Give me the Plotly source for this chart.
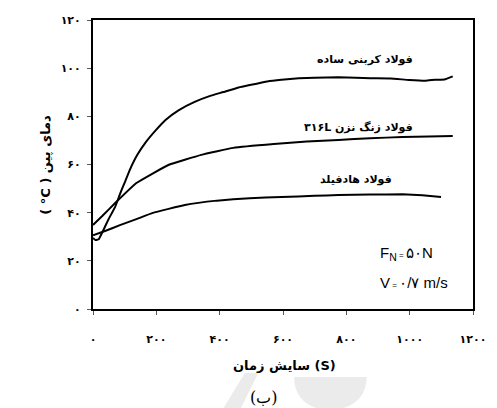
import plotly.graph_objects as go

# Friction (wear) time in seconds and pin temperature in °C for each steel
carbon_time = [0, 8, 18, 30, 50, 70, 86, 100, 116, 140, 168, 200, 229, 270, 321, 370, 412,
               460, 495, 550, 595, 650, 700, 775, 830, 876, 940, 998, 1050, 1081, 1110, 1136]
carbon_temp = [29.5, 28.6, 29.0, 32.0, 37.5, 42.4, 48.0, 52.5, 57.7, 64.0, 69.5, 74.5, 78.5,
               82.5, 86.0, 88.5, 90.1, 92.0, 93.0, 94.5, 95.2, 95.8, 96.0, 96.2, 96.0, 95.8,
               95.7, 95.1, 94.8, 95.2, 95.3, 96.6]

stainless_time = [0, 30, 70, 137, 238, 342, 443, 571, 675, 775, 875, 977, 1060, 1136]
stainless_temp = [34.9, 38.7, 44.0, 52.3, 59.8, 64.0, 66.9, 68.5, 69.5, 70.2, 70.9, 71.4, 71.6, 71.8]

hadfield_time = [0, 40, 85, 137, 189, 290, 391, 495, 595, 700, 775, 875, 977, 1040, 1099]
hadfield_temp = [30.6, 32.5, 34.8, 37.3, 39.9, 43.2, 45.0, 46.0, 46.5, 47.0, 47.3, 47.5, 47.6, 47.2, 46.5]

RLE, PDF, LRM = "\u202b", "\u202c", "\u200e"
series_names = ["فولاد کربنی ساده", RLE + "فولاد زنگ نزن ۳۱۶L" + PDF, "فولاد هادفیلد"]
label_x = [858, 837, 830]
label_y = [103.4, 75.6, 53.6]

x_tick_vals = [0, 200, 400, 600, 800, 1000, 1200]
x_tick_text = ["۰", "۲۰۰", "۴۰۰", "۶۰۰", "۸۰۰", "۱۰۰۰", "۱۲۰۰"]
y_tick_vals = [0, 20, 40, 60, 80, 100, 120]
y_tick_text = ["۰", "۲۰", "۴۰", "۶۰", "۸۰", "۱۰۰", "۱۲۰"]

W, H = 497, 408
L, R, T, B = 93, 11, 20, 99
PW, PH = W - L - R, H - T - B


def px(x):
    return (x - L) / PW


def py(y):
    return (H - B - y) / PH


fig = go.Figure()
line_style = dict(color="black", width=2, shape="spline", smoothing=0.3)
for t, v, n in [(carbon_time, carbon_temp, series_names[0]),
                (stainless_time, stainless_temp, series_names[1]),
                (hadfield_time, hadfield_temp, series_names[2])]:
    fig.add_trace(go.Scatter(x=t, y=v, mode="lines", name=n, line=line_style,
                             showlegend=False, hoverinfo="skip"))

arabic_font = "DejaVu Sans"
annotations = []
for n, xv, yv in zip(series_names, label_x, label_y):
    annotations.append(dict(x=xv, y=yv, xref="x", yref="y", text="<b>" + n + "</b>",
                            showarrow=False, font=dict(family=arabic_font, size=11, color="black")))


def note(x, y, text, font, **kw):
    d = dict(x=px(x), y=py(y), xref="paper", yref="paper", text=text, showarrow=False,
             xanchor="center", yanchor="middle", font=font)
    d.update(kw)
    return d


annotations += [
    note(388, 253, "F<sub>N</sub><span style='font-size:8px'> = </span>۵۰N",
         dict(family="Liberation Sans", size=15, color="black"), xanchor="left"),
    note(388, 282, "V<span style='font-size:8px'> = </span>۰/۷ m/s",
         dict(family="Liberation Sans", size=15, color="black"), xanchor="left"),
    note(291, 365, "<b>" + LRM + "زمان" + LRM + " سایش" + LRM + " (S)</b>",
         dict(family=arabic_font, size=13, color="black")),
    note(43, 165, "<b>( °C ) دمای پین</b>",
         dict(family=arabic_font, size=13, color="black"), textangle=-90),
    note(270, 397, "(ب)", dict(family="DejaVu Serif", size=16, color="black")),
]

# faint grey logo mark along the lower edge
logo_color = "rgba(215,215,215,0.5)"
shapes = [
    dict(type="path", xref="paper", yref="paper", layer="below", line=dict(width=0),
         fillcolor=logo_color,
         path=(f"M {px(228)},{py(408)} L {px(250)},{py(373)} L {px(264)},{py(373)} "
               f"L {px(246)},{py(408)} Z")),
    dict(type="path", xref="paper", yref="paper", layer="below", line=dict(width=0),
         fillcolor=logo_color,
         path=(f"M {px(301)},{py(377)} L {px(376)},{py(377)} "
               f"C {px(376)},{py(398)} {px(360)},{py(410)} {px(338)},{py(410)} "
               f"C {px(316)},{py(410)} {px(301)},{py(398)} {px(301)},{py(377)} Z")),
]

axis_common = dict(showline=True, linecolor="black", linewidth=2, mirror=True,
                   ticks="outside", ticklen=4, tickwidth=1, tickcolor="#555",
                   showgrid=False, zeroline=False, ticklabeloverflow="allow",
                   tickfont=dict(family=arabic_font, size=11, color="black"))

fig.update_layout(
    width=W, height=H,
    margin=dict(l=L, r=R, t=T, b=B),
    paper_bgcolor="white", plot_bgcolor="white",
    xaxis=dict(range=[0, 1200], tickvals=x_tick_vals,
               ticktext=["<b>" + s + "</b>" for s in x_tick_text],
               ticklabelstandoff=15, **axis_common),
    yaxis=dict(range=[0, 120], tickvals=y_tick_vals,
               ticktext=["<b>" + s + "</b>" for s in y_tick_text],
               ticklabelstandoff=4, **axis_common),
    annotations=annotations,
    shapes=shapes,
)

fig.write_html("out.html")
